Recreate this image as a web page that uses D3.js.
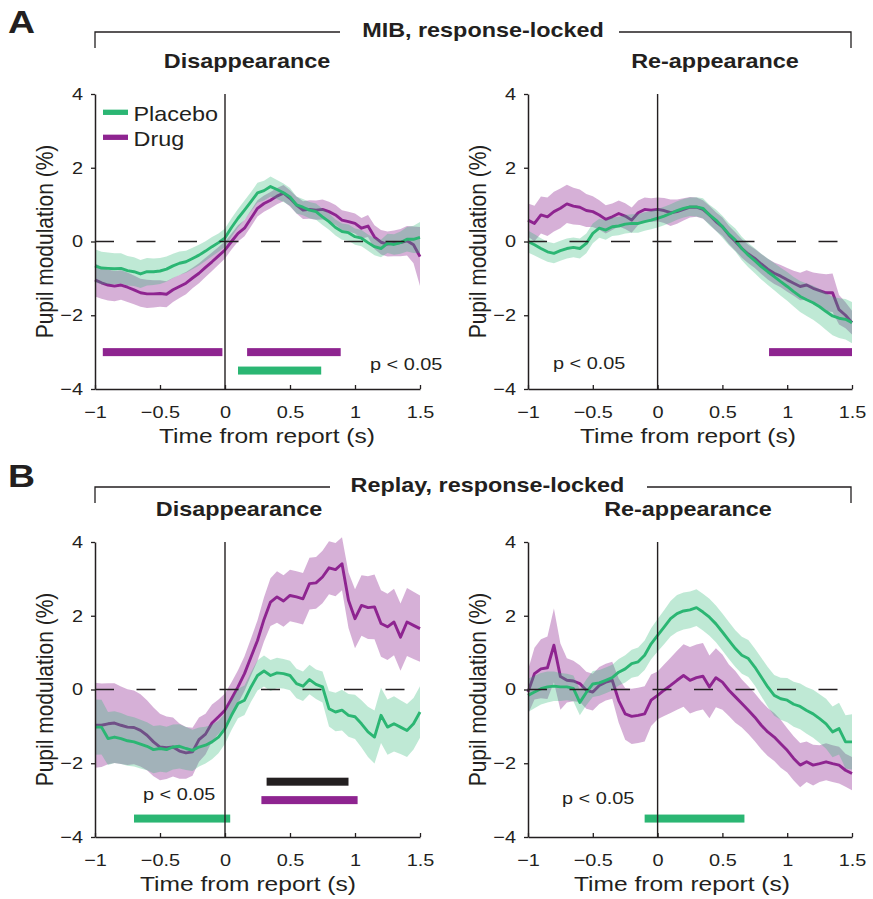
<!DOCTYPE html>
<html>
<head>
<meta charset="utf-8">
<script src="https://cdn.jsdelivr.net/npm/d3@7"></script>
<style>
  body { margin: 0; background: #fff; }
  svg { display: block; }
</style>
</head>
<body>
<script>
// ---- data -------------------------------------------------------------
// time from report (s), shared by every trace
const TIME = [-1, -0.95, -0.9, -0.85, -0.8, -0.75, -0.7, -0.65, -0.6, -0.55,
  -0.5, -0.45, -0.4, -0.35, -0.3, -0.25, -0.2, -0.15, -0.1, -0.05,
  0, 0.05, 0.1, 0.15, 0.2, 0.25, 0.3, 0.35, 0.4, 0.45,
  0.5, 0.55, 0.6, 0.65, 0.7, 0.75, 0.8, 0.85, 0.9, 0.95,
  1, 1.05, 1.1, 1.15, 1.2, 1.25, 1.3, 1.35, 1.4, 1.45, 1.5];

const X_TICKS = [-1, -0.5, 0, 0.5, 1, 1.5];
const Y_TICKS = [-4, -2, 0, 2, 4];

// MIB, response-locked: disappearance
const mibDisPlacebo = [-0.66, -0.72, -0.73, -0.74, -0.73, -0.79, -0.82, -0.88, -0.82, -0.82,
  -0.80, -0.75, -0.66, -0.59, -0.55, -0.46, -0.37, -0.26, -0.14, -0.03,
  0.10, 0.38, 0.63, 0.85, 1.08, 1.32, 1.38, 1.49, 1.41, 1.32,
  1.21, 0.99, 0.93, 0.85, 0.81, 0.67, 0.54, 0.38, 0.27, 0.24,
  0.13, 0.09, -0.03, -0.14, -0.19, -0.05, -0.08, -0.03, 0.06, 0.06, 0.11];
const mibDisPlaceboSem = [0.45, 0.44, 0.43, 0.42, 0.41, 0.40, 0.39, 0.38, 0.37, 0.36,
  0.35, 0.34, 0.33, 0.32, 0.30, 0.29, 0.28, 0.27, 0.26, 0.25,
  0.25, 0.25, 0.25, 0.26, 0.26, 0.27, 0.27, 0.27, 0.26, 0.25,
  0.24, 0.23, 0.22, 0.22, 0.22, 0.22, 0.22, 0.22, 0.22, 0.22,
  0.22, 0.22, 0.22, 0.23, 0.24, 0.26, 0.28, 0.30, 0.33, 0.37, 0.42];
const mibDisDrug = [-1.04, -1.12, -1.18, -1.21, -1.18, -1.24, -1.31, -1.39, -1.42, -1.42,
  -1.41, -1.43, -1.31, -1.22, -1.13, -0.99, -0.86, -0.70, -0.55, -0.39,
  -0.23, 0.0, 0.22, 0.36, 0.63, 0.90, 1.03, 1.12, 1.23, 1.31,
  1.17, 0.99, 0.85, 0.87, 0.85, 0.87, 0.81, 0.72, 0.58, 0.54,
  0.49, 0.36, 0.42, 0.12, -0.02, -0.07, -0.05, -0.03, 0.02, -0.09, -0.41];
const mibDisDrugSem = [0.45, 0.43, 0.42, 0.41, 0.40, 0.40, 0.39, 0.38, 0.38, 0.37,
  0.36, 0.35, 0.33, 0.31, 0.30, 0.28, 0.27, 0.26, 0.25, 0.24,
  0.23, 0.22, 0.22, 0.22, 0.22, 0.22, 0.22, 0.22, 0.22, 0.22,
  0.22, 0.23, 0.24, 0.25, 0.26, 0.27, 0.27, 0.27, 0.27, 0.27,
  0.27, 0.28, 0.30, 0.32, 0.33, 0.34, 0.35, 0.37, 0.40, 0.50, 0.80];

// MIB, response-locked: re-appearance
const mibReaPlacebo = [0.0, -0.09, -0.19, -0.28, -0.32, -0.25, -0.19, -0.16, -0.19, -0.05,
  0.22, 0.36, 0.31, 0.40, 0.42, 0.47, 0.49, 0.49, 0.54, 0.58,
  0.63, 0.69, 0.76, 0.84, 0.90, 0.94, 0.94, 0.90, 0.72, 0.58,
  0.40, 0.20, 0.04, -0.19, -0.37, -0.52, -0.68, -0.82, -0.95, -1.09,
  -1.22, -1.36, -1.49, -1.58, -1.66, -1.77, -1.90, -2.02, -2.08, -2.11, -2.20];
const mibReaPlaceboSem = [0.30, 0.29, 0.28, 0.27, 0.27, 0.27, 0.27, 0.27, 0.27, 0.27,
  0.27, 0.26, 0.26, 0.25, 0.25, 0.25, 0.25, 0.25, 0.25, 0.25,
  0.25, 0.25, 0.25, 0.25, 0.25, 0.25, 0.26, 0.27, 0.28, 0.29,
  0.30, 0.30, 0.31, 0.32, 0.33, 0.34, 0.35, 0.36, 0.37, 0.38,
  0.39, 0.40, 0.42, 0.44, 0.46, 0.48, 0.50, 0.52, 0.54, 0.55, 0.56];
const mibReaDrug = [0.58, 0.49, 0.72, 0.67, 0.81, 0.90, 1.02, 0.96, 0.93, 0.84,
  0.81, 0.72, 0.60, 0.67, 0.76, 0.69, 0.58, 0.78, 0.87, 0.85,
  0.87, 0.84, 0.78, 0.81, 0.87, 0.93, 0.93, 0.87, 0.72, 0.54,
  0.40, 0.18, 0.0, -0.19, -0.34, -0.46, -0.61, -0.75, -0.86, -0.94,
  -1.04, -1.13, -1.22, -1.18, -1.27, -1.33, -1.39, -1.39, -1.85, -2.00, -2.20];
const mibReaDrugSem = [0.45, 0.48, 0.50, 0.52, 0.54, 0.54, 0.52, 0.50, 0.48, 0.45,
  0.42, 0.40, 0.38, 0.36, 0.35, 0.35, 0.34, 0.33, 0.32, 0.32,
  0.32, 0.34, 0.36, 0.33, 0.30, 0.28, 0.26, 0.25, 0.25, 0.25,
  0.25, 0.25, 0.25, 0.25, 0.25, 0.26, 0.27, 0.28, 0.29, 0.30,
  0.32, 0.34, 0.37, 0.40, 0.43, 0.46, 0.50, 0.52, 0.40, 0.35, 0.32];

// Replay, response-locked: disappearance
const replayDisPlacebo = [-1.02, -1.02, -1.33, -1.29, -1.33, -1.39, -1.42, -1.48, -1.54, -1.63,
  -1.60, -1.63, -1.56, -1.54, -1.60, -1.65, -1.56, -1.51, -1.42, -1.29,
  -1.06, -0.70, -0.38, -0.29, 0.07, 0.38, 0.50, 0.38, 0.45, 0.43,
  0.38, 0.16, 0.09, 0.27, 0.14, 0.07, -0.52, -0.61, -0.56, -0.70,
  -0.74, -0.93, -1.15, -1.29, -0.70, -1.02, -0.93, -1.02, -1.11, -0.93, -0.61];
const replayDisPlaceboSem = [0.75, 0.74, 0.72, 0.70, 0.69, 0.68, 0.67, 0.66, 0.65, 0.64,
  0.63, 0.62, 0.61, 0.60, 0.58, 0.56, 0.53, 0.50, 0.47, 0.44,
  0.41, 0.40, 0.40, 0.40, 0.40, 0.41, 0.42, 0.42, 0.41, 0.40,
  0.40, 0.40, 0.40, 0.40, 0.40, 0.42, 0.48, 0.52, 0.55, 0.58,
  0.60, 0.64, 0.68, 0.72, 0.75, 0.75, 0.75, 0.73, 0.72, 0.70, 0.70];
const replayDisDrug = [-0.97, -0.97, -0.93, -0.91, -0.97, -1.02, -1.03, -1.11, -1.24, -1.42,
  -1.56, -1.58, -1.56, -1.67, -1.72, -1.69, -1.36, -1.21, -0.91, -0.74,
  -0.56, -0.25, 0.07, 0.43, 0.88, 1.33, 1.90, 2.37, 2.51, 2.40,
  2.55, 2.51, 2.46, 2.87, 2.89, 3.05, 3.30, 3.25, 3.41, 2.42,
  1.92, 2.28, 2.22, 2.24, 1.79, 1.70, 1.83, 1.42, 1.83, 1.74, 1.65];
const replayDisDrugSem = [1.15, 1.13, 1.10, 1.08, 1.05, 1.03, 1.00, 0.98, 0.95, 0.93,
  0.90, 0.85, 0.80, 0.75, 0.70, 0.65, 0.60, 0.55, 0.50, 0.47,
  0.45, 0.45, 0.45, 0.47, 0.50, 0.55, 0.60, 0.65, 0.70, 0.70,
  0.70, 0.70, 0.70, 0.70, 0.70, 0.71, 0.72, 0.72, 0.72, 0.75,
  0.80, 0.82, 0.85, 0.88, 0.90, 0.90, 0.90, 0.91, 0.92, 0.91, 0.90];

// Replay, response-locked: re-appearance
const replayReaPlacebo = [-0.16, -0.07, 0.02, 0.07, 0.09, 0.07, 0.07, 0.03, -0.35, -0.08,
  0.15, 0.18, 0.25, 0.32, 0.47, 0.56, 0.70, 0.75, 0.93, 1.24,
  1.47, 1.69, 1.92, 2.06, 2.13, 2.16, 2.22, 2.10, 1.96, 1.78,
  1.56, 1.33, 1.11, 0.93, 0.84, 0.61, 0.34, 0.07, -0.16, -0.25,
  -0.29, -0.40, -0.46, -0.57, -0.66, -0.79, -0.93, -1.15, -1.06, -1.42, -1.42];
const replayReaPlaceboSem = [0.45, 0.44, 0.43, 0.42, 0.40, 0.38, 0.36, 0.35, 0.35, 0.35,
  0.35, 0.35, 0.35, 0.35, 0.36, 0.37, 0.38, 0.39, 0.40, 0.42,
  0.44, 0.46, 0.48, 0.50, 0.50, 0.50, 0.50, 0.50, 0.50, 0.50,
  0.50, 0.50, 0.50, 0.50, 0.50, 0.50, 0.52, 0.54, 0.55, 0.57,
  0.60, 0.61, 0.62, 0.63, 0.65, 0.66, 0.68, 0.69, 0.70, 0.72, 0.75];
const replayReaDrug = [-0.07, 0.43, 0.56, 0.59, 1.20, 0.35, 0.25, 0.23, 0.16, -0.02,
  -0.07, 0.11, 0.20, 0.25, -0.30, -0.66, -0.73, -0.70, -0.66, -0.29,
  -0.16, -0.02, 0.11, 0.25, 0.38, 0.25, 0.32, 0.36, 0.07, 0.32,
  0.20, -0.02, -0.20, -0.38, -0.56, -0.75, -0.97, -1.15, -1.29, -1.47,
  -1.65, -1.87, -2.05, -1.96, -2.05, -2.01, -1.96, -2.01, -2.05, -2.19, -2.28];
const replayReaDrugSem = [0.60, 0.70, 0.80, 0.85, 1.00, 0.90, 0.60, 0.55, 0.50, 0.50,
  0.50, 0.50, 0.50, 0.50, 0.60, 0.70, 0.75, 0.75, 0.75, 0.70,
  0.65, 0.70, 0.75, 0.80, 0.85, 0.90, 0.90, 0.90, 0.85, 0.80,
  0.75, 0.70, 0.70, 0.65, 0.65, 0.65, 0.65, 0.65, 0.65, 0.65,
  0.60, 0.60, 0.60, 0.55, 0.55, 0.50, 0.50, 0.50, 0.50, 0.45, 0.45];

// significant clusters (p < 0.05): time span and the level they are drawn at
const mibDisBars = [
  { who: "drug", from: -0.94, to: -0.02, at: -3.0 },
  { who: "drug", from: 0.17, to: 0.89, at: -3.0 },
  { who: "placebo", from: 0.10, to: 0.74, at: -3.5 }
];
const mibReaBars = [
  { who: "drug", from: 0.86, to: 1.5, at: -3.0 }
];
const replayDisBars = [
  { who: "diff", from: 0.32, to: 0.95, at: -2.5 },
  { who: "drug", from: 0.28, to: 1.02, at: -3.0 },
  { who: "placebo", from: -0.70, to: 0.04, at: -3.5 }
];
const replayReaBars = [
  { who: "placebo", from: -0.10, to: 0.67, at: -3.5 }
];

const LEGEND = [
  { who: "placebo", label: "Placebo" },
  { who: "drug", label: "Drug" }
];

// ---- style ------------------------------------------------------------
const W = 873, H = 899;
const INK = "#231f20";
const COLORS = { placebo: "#2bb673", drug: "#8e2490", diff: "#231f20" };
const FONT = "'Liberation Sans', Arial, Helvetica, sans-serif";
const SX = 1.17; // type in this figure is set slightly wide

const svg = d3.select("body").append("svg")
  .attr("width", W).attr("height", H)
  .attr("viewBox", `0 0 ${W} ${H}`);

function label(g, x, y, str, opt = {}) {
  const { size = 16, weight = "normal", anchor = "start", rotate = 0 } = opt;
  return g.append("text")
    .attr("transform", `translate(${x},${y}) scale(${SX},1)` + (rotate ? ` rotate(${rotate})` : ""))
    .attr("font-family", FONT)
    .attr("font-size", size)
    .attr("font-weight", weight)
    .attr("text-anchor", anchor)
    .attr("fill", INK)
    .text(str);
}

// ---- section headings with brackets -----------------------------------
function section(letter, letterY, lineY, text, textX, gapL, gapR) {
  label(svg, 8, letterY, letter, { size: 32, weight: "bold" });
  svg.append("path")
    .attr("d", `M95,${lineY + 16}V${lineY}H${gapL}M${gapR},${lineY}H851V${lineY + 16}`)
    .attr("fill", "none").attr("stroke", INK).attr("stroke-width", 1.3);
  label(svg, textX, lineY + 5, text, { size: 20, weight: "bold", anchor: "middle" });
}
section("A", 33, 32, "MIB, response-locked", 483, 340, 619);
section("B", 487, 487, "Replay, response-locked", 487.5, 330, 647);

// ---- panels -------------------------------------------------------------
const panels = [
  { left: 95, right: 420, top: 94, bottom: 389, title: "Disappearance", titleX: 247,
    placebo: mibDisPlacebo, placeboSem: mibDisPlaceboSem, drug: mibDisDrug, drugSem: mibDisDrugSem,
    bars: mibDisBars, pX: 370, pY: 370, xLabelX: 267, legend: true },
  { left: 528, right: 852, top: 94, bottom: 389, title: "Re-appearance", titleX: 715,
    placebo: mibReaPlacebo, placeboSem: mibReaPlaceboSem, drug: mibReaDrug, drugSem: mibReaDrugSem,
    bars: mibReaBars, pX: 553, pY: 369, xLabelX: 688, legend: false },
  { left: 95, right: 420, top: 542, bottom: 837, title: "Disappearance", titleX: 239,
    placebo: replayDisPlacebo, placeboSem: replayDisPlaceboSem, drug: replayDisDrug, drugSem: replayDisDrugSem,
    bars: replayDisBars, pX: 143, pY: 800, xLabelX: 248, legend: false },
  { left: 528, right: 852, top: 542, bottom: 837, title: "Re-appearance", titleX: 688,
    placebo: replayReaPlacebo, placeboSem: replayReaPlaceboSem, drug: replayReaDrug, drugSem: replayReaDrugSem,
    bars: replayReaBars, pX: 562, pY: 804, xLabelX: 682, legend: false }
];

panels.forEach(p => {
  const x = d3.scaleLinear().domain([-1, 1.5]).range([p.left, p.right]);
  const y = d3.scaleLinear().domain([-4, 4]).range([p.bottom, p.top]);
  const g = svg.append("g");

  // titles
  label(g, p.titleX, p.top - 26.5, p.title, { size: 20, weight: "bold", anchor: "middle" });
  label(g, p.xLabelX, p.bottom + 54, "Time from report (s)", { size: 21, anchor: "middle" });
  label(g, p.left - 42, (p.top + p.bottom) / 2, "Pupil modulation (%)", { size: 21, anchor: "middle", rotate: -90 });

  // mean ± s.e.m. bands and mean traces (drug first, placebo on top)
  const band = (mean, sem) => d3.area()
    .x((d, i) => x(TIME[i]))
    .y0((d, i) => y(mean[i] - sem[i]))
    .y1((d, i) => y(mean[i] + sem[i]))(mean);
  const trace = mean => d3.line()
    .x((d, i) => x(TIME[i]))
    .y(d => y(d))(mean);

  [["drug", p.drug, p.drugSem, 0.36], ["placebo", p.placebo, p.placeboSem, 0.3]].forEach(([who, m, s, op]) => {
    g.append("path").attr("d", band(m, s))
      .attr("fill", COLORS[who]).attr("fill-opacity", op).attr("stroke", "none");
    g.append("path").attr("d", trace(m))
      .attr("fill", "none").attr("stroke", COLORS[who]).attr("stroke-width", 2.9)
      .attr("stroke-linejoin", "round");
  });

  // significance bars
  g.selectAll("rect.sig").data(p.bars).join("rect")
    .attr("class", "sig")
    .attr("x", d => x(d.from))
    .attr("width", d => x(d.to) - x(d.from))
    .attr("y", d => y(d.at) - 4)
    .attr("height", 8)
    .attr("fill", d => COLORS[d.who]);
  label(g, p.pX, p.pY, "p < 0.05", { size: 17 });

  // zero reference lines
  g.append("line")
    .attr("x1", x(-1)).attr("x2", x(1.5)).attr("y1", y(0)).attr("y2", y(0))
    .attr("stroke", INK).attr("stroke-width", 1.3).attr("stroke-dasharray", "19,22.5");
  g.append("line")
    .attr("x1", x(0)).attr("x2", x(0)).attr("y1", y(4)).attr("y2", y(-4))
    .attr("stroke", INK).attr("stroke-width", 1.4);

  // axes
  const xAxis = g.append("g").attr("transform", `translate(0,${p.bottom})`)
    .call(d3.axisBottom(x).tickValues(X_TICKS).tickSizeInner(-4).tickSizeOuter(0).tickPadding(16.5)
      .tickFormat(d3.format("")));
  const yAxis = g.append("g").attr("transform", `translate(${p.left},0)`)
    .call(d3.axisLeft(y).tickValues(Y_TICKS).tickSizeInner(4).tickSizeOuter(0).tickPadding(8));
  [xAxis, yAxis].forEach(a => {
    a.select(".domain").attr("stroke", INK).attr("stroke-width", 1.5);
    a.selectAll(".tick line").attr("stroke", INK).attr("stroke-width", 1.3);
    a.selectAll(".tick text").attr("fill", INK).attr("font-family", FONT).attr("font-size", 17);
  });
  xAxis.selectAll(".tick text").attr("transform", `scale(${SX},1)`);
  yAxis.selectAll(".tick text").attr("x", null).attr("transform", `translate(-12,0) scale(${SX},1)`);

  // legend
  if (p.legend) {
    LEGEND.forEach((d, i) => {
      const ly = 112.3 + i * 25;
      g.append("line").attr("x1", 103).attr("x2", 128).attr("y1", ly).attr("y2", ly)
        .attr("stroke", COLORS[d.who]).attr("stroke-width", 5.3);
      label(g, 133.5, ly + 8.4, d.label, { size: 20 });
    });
  }
});
</script>
</body>
</html>
